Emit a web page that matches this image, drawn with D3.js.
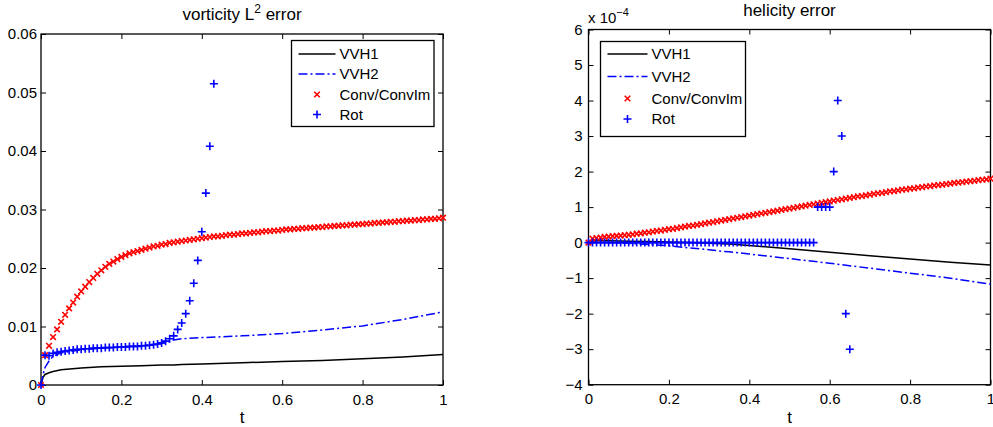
<!DOCTYPE html>
<html>
<head>
<meta charset="utf-8">
<script src="https://cdn.jsdelivr.net/npm/d3@7"></script>
<style>
  html, body { margin: 0; padding: 0; background: #fff; }
  svg { display: block; font-family: "Liberation Sans", Arial, Helvetica, sans-serif; }
</style>
</head>
<body>
<svg id="chart" width="993" height="427"></svg>
<script>
// ---- sampling ----
const markerStep = 0.01;           // markers are saved every 0.01 time units
const lineT = [0, 0.005, 0.01, 0.02, 0.03, 0.05, 0.1, 0.15, 0.2, 0.25, 0.3, 0.33, 0.35, 0.4, 0.5, 0.6, 0.7, 0.8, 0.9, 1.0];

// ---- vorticity L2 error ----
const vortVVH1 = [0, 0.0013, 0.0018, 0.0021, 0.0023, 0.0026, 0.0029, 0.0031, 0.0032, 0.0033, 0.0034, 0.0034, 0.0035, 0.0036, 0.0038, 0.0040, 0.0042, 0.0045, 0.0048, 0.0052];
const vortVVH2 = [0, 0.0018, 0.0030, 0.0041, 0.0049, 0.0055, 0.0060, 0.0063, 0.0065, 0.0067, 0.0071, 0.0077, 0.0079, 0.0081, 0.0084, 0.0088, 0.0094, 0.0101, 0.0112, 0.0125];
const vortConv = [
  0.0000, 0.0051, 0.0067, 0.0082, 0.0095, 0.0108, 0.0120, 0.0131, 0.0141, 0.0151,
  0.0160, 0.0168, 0.0176, 0.0183, 0.0190, 0.0196, 0.0202, 0.0207, 0.0211, 0.0215,
  0.0219, 0.0222, 0.0225, 0.0227, 0.0229, 0.0231, 0.0233, 0.0235, 0.0237, 0.0238,
  0.0240, 0.0241, 0.0243, 0.0244, 0.0245, 0.0246, 0.0247, 0.0248, 0.0249, 0.0250,
  0.0251, 0.0252, 0.0253, 0.0254, 0.0254, 0.0255, 0.0256, 0.0257, 0.0257, 0.0258,
  0.0259, 0.0259, 0.0260, 0.0261, 0.0261, 0.0262, 0.0263, 0.0263, 0.0264, 0.0264,
  0.0265, 0.0266, 0.0266, 0.0267, 0.0267, 0.0268, 0.0268, 0.0269, 0.0269, 0.0270,
  0.0270, 0.0271, 0.0271, 0.0272, 0.0272, 0.0273, 0.0273, 0.0274, 0.0274, 0.0275,
  0.0275, 0.0276, 0.0276, 0.0277, 0.0277, 0.0278, 0.0278, 0.0279, 0.0279, 0.0280,
  0.0280, 0.0281, 0.0281, 0.0282, 0.0282, 0.0283, 0.0283, 0.0284, 0.0284, 0.0285,
  0.0286
];
const vortRot = [
  0.0000, 0.0051, 0.0050, 0.0054, 0.0056, 0.0057, 0.0058, 0.0059, 0.0060, 0.0061,
  0.0061, 0.0062, 0.0062, 0.0063, 0.0063, 0.0063, 0.0064, 0.0064, 0.0064, 0.0065,
  0.0065, 0.0065, 0.0066, 0.0066, 0.0066, 0.0067, 0.0067, 0.0068, 0.0069, 0.0070,
  0.0072, 0.0075, 0.0079, 0.0084, 0.0095, 0.0106, 0.0122, 0.0144, 0.0174, 0.0213,
  0.0262, 0.0328, 0.0408, 0.0515
];
const vortYTicks = [0, 0.01, 0.02, 0.03, 0.04, 0.05, 0.06];
const vortYLabels = ["0", "0.01", "0.02", "0.03", "0.04", "0.05", "0.06"];

// ---- helicity error (units of 1e-4) ----
const heliVVH1 = [0, 0.03, 0.04, 0.05, 0.05, 0.05, 0.04, 0.03, 0.02, 0.0, -0.02, -0.03, -0.04, -0.08, -0.17, -0.27, -0.37, -0.46, -0.55, -0.63];
const heliVVH2 = [0, 0, 0, 0, 0, 0, -0.02, -0.05, -0.09, -0.15, -0.20, -0.24, -0.26, -0.32, -0.45, -0.58, -0.72, -0.86, -1.00, -1.17];
const heliConv = [
  0.00, 0.11, 0.13, 0.14, 0.16, 0.17, 0.18, 0.19, 0.20, 0.21,
  0.22, 0.23, 0.25, 0.26, 0.28, 0.29, 0.31, 0.33, 0.34, 0.36,
  0.38, 0.39, 0.41, 0.43, 0.45, 0.47, 0.48, 0.50, 0.52, 0.54,
  0.56, 0.58, 0.60, 0.62, 0.64, 0.66, 0.68, 0.70, 0.72, 0.74,
  0.76, 0.78, 0.80, 0.82, 0.84, 0.86, 0.88, 0.90, 0.92, 0.94,
  0.96, 0.98, 1.00, 1.02, 1.04, 1.06, 1.08, 1.10, 1.12, 1.14,
  1.16, 1.18, 1.20, 1.22, 1.24, 1.26, 1.28, 1.30, 1.31, 1.33,
  1.35, 1.37, 1.39, 1.40, 1.42, 1.44, 1.45, 1.47, 1.49, 1.50,
  1.52, 1.53, 1.55, 1.56, 1.58, 1.59, 1.61, 1.62, 1.63, 1.65,
  1.66, 1.68, 1.69, 1.70, 1.72, 1.73, 1.74, 1.76, 1.77, 1.78,
  1.80
];
const heliRot = [
  0, 0, 0, 0, 0, 0, 0, 0, 0, 0,
  0, 0, 0, 0, 0, 0, 0, 0, 0, 0,
  0, 0, 0, 0, 0, 0, 0, 0, 0, 0,
  0, 0, 0, 0, 0, 0, 0, 0, 0, 0,
  0, 0, 0, 0, 0, 0, 0, 0, 0, 0,
  0, 0, 0, 0, 0, 0, 0, 1, 1, 1,
  1, 2, 4, 3, -2, -3
];
const heliYTicks = [-4, -3, -2, -1, 0, 1, 2, 3, 4, 5, 6];
const heliYLabels = ["\u22124", "\u22123", "\u22122", "\u22121", "0", "1", "2", "3", "4", "5", "6"];

const xTicks = [0, 0.2, 0.4, 0.6, 0.8, 1];
const xLabels = ["0", "0.2", "0.4", "0.6", "0.8", "1"];
const seriesNames = ["VVH1", "VVH2", "Conv/ConvIm", "Rot"];

// ---- styles ----
const BLUE = "#0000ff", RED = "#ff0000", BLACK = "#000";
const DASHDOT = "9,3,2,3";
const crossPath = "M-2.8,-2.8L2.8,2.8M-2.8,2.8L2.8,-2.8";
const plusPath = "M-4,0H4M0,-4V4";
const MARK_W = 1.6;

const svg = d3.select("#chart");

function drawPanel(cfg) {
  const x = d3.scaleLinear().domain([0, 1]).range([cfg.left, cfg.right]);
  const y = d3.scaleLinear().domain(cfg.yDomain).range([cfg.bottom, cfg.top]);
  const g = svg.append("g");

  // axes box with inward ticks on all four sides
  const tick = 5;
  const styleAxis = sel => {
    sel.select(".domain").remove();
    sel.selectAll("line").attr("stroke", BLACK).attr("stroke-width", 1);
    sel.selectAll("text").attr("fill", BLACK).attr("font-size", 15)
      .attr("font-family", "'Liberation Sans', Arial, Helvetica, sans-serif");
  };
  g.append("g").attr("transform", `translate(0,${cfg.bottom})`)
    .call(d3.axisBottom(x).tickValues(xTicks).tickFormat((d, i) => xLabels[i])
      .tickSizeInner(-tick).tickSizeOuter(0).tickPadding(9))
    .call(styleAxis);
  g.append("g").attr("transform", `translate(0,${cfg.top})`)
    .call(d3.axisTop(x).tickValues(xTicks).tickFormat("").tickSizeInner(-tick).tickSizeOuter(0))
    .call(styleAxis);
  g.append("g").attr("transform", `translate(${cfg.left},0)`)
    .call(d3.axisLeft(y).tickValues(cfg.yTicks).tickFormat((d, i) => cfg.yLabels[i])
      .tickSizeInner(-tick).tickSizeOuter(0).tickPadding(cfg.yPad))
    .call(styleAxis);
  g.append("g").attr("transform", `translate(${cfg.right},0)`)
    .call(d3.axisRight(y).tickValues(cfg.yTicks).tickFormat("").tickSizeInner(-tick).tickSizeOuter(0))
    .call(styleAxis);

  g.append("rect")
    .attr("x", cfg.left).attr("y", cfg.top)
    .attr("width", cfg.right - cfg.left).attr("height", cfg.bottom - cfg.top)
    .attr("fill", "none").attr("stroke", BLACK).attr("stroke-width", 1.3);

  // lines
  const line = d3.line().x(d => x(d[0])).y(d => y(d[1]));
  g.append("path").datum(lineT.map((t, i) => [t, cfg.vvh1[i]]))
    .attr("d", line).attr("fill", "none").attr("stroke", BLACK).attr("stroke-width", 1.5);
  g.append("path").datum(lineT.map((t, i) => [t, cfg.vvh2[i]]))
    .attr("d", line).attr("fill", "none").attr("stroke", BLUE).attr("stroke-width", 1.5)
    .attr("stroke-dasharray", DASHDOT);

  // markers
  g.append("g").selectAll("path").data(cfg.conv.map((v, i) => [i * markerStep, v]))
    .join("path")
    .attr("transform", d => `translate(${x(d[0])},${y(d[1])})`)
    .attr("d", crossPath).attr("fill", "none").attr("stroke", RED).attr("stroke-width", MARK_W);
  g.append("g").selectAll("path").data(cfg.rot.map((v, i) => [i * markerStep, v]))
    .join("path")
    .attr("transform", d => `translate(${x(d[0])},${y(d[1])})`)
    .attr("d", plusPath).attr("fill", "none").attr("stroke", BLUE).attr("stroke-width", MARK_W);

  // title
  const title = g.append("text")
    .attr("x", (cfg.left + cfg.right) / 2).attr("y", cfg.titleY)
    .attr("text-anchor", "middle").attr("font-size", 17).attr("fill", BLACK);
  cfg.title.forEach(part => {
    const ts = title.append("tspan").text(part.text);
    if (part.sup) ts.attr("font-size", 12).attr("dy", -7);
    else if (part.after) ts.attr("dy", 7);
  });

  // x label
  g.append("text").attr("x", (cfg.left + cfg.right) / 2).attr("y", 423)
    .attr("text-anchor", "middle").attr("font-size", 17).attr("fill", BLACK).text("t");

  // legend
  const L = cfg.legend;
  const lg = g.append("g");
  lg.append("rect").attr("x", L.x).attr("y", L.y).attr("width", L.w).attr("height", L.h)
    .attr("fill", "#fff").attr("stroke", BLACK).attr("stroke-width", 1.3);
  const sx0 = L.x + 7, sx1 = L.x + 7 + L.sample, sxm = (sx0 + sx1) / 2;
  seriesNames.forEach((name, i) => {
    const cy = L.rows[i];
    if (i === 0) lg.append("line").attr("x1", sx0).attr("x2", sx1).attr("y1", cy).attr("y2", cy)
      .attr("stroke", BLACK).attr("stroke-width", 1.5);
    if (i === 1) lg.append("line").attr("x1", sx0).attr("x2", sx1).attr("y1", cy).attr("y2", cy)
      .attr("stroke", BLUE).attr("stroke-width", 1.5).attr("stroke-dasharray", DASHDOT);
    if (i === 2) lg.append("path").attr("transform", `translate(${sxm},${cy})`)
      .attr("d", crossPath).attr("fill", "none").attr("stroke", RED).attr("stroke-width", MARK_W);
    if (i === 3) lg.append("path").attr("transform", `translate(${sxm},${cy})`)
      .attr("d", plusPath).attr("fill", "none").attr("stroke", BLUE).attr("stroke-width", MARK_W);
    lg.append("text").attr("x", sx1 + 4).attr("y", cy).attr("dy", "0.36em")
      .attr("font-size", 15).attr("fill", BLACK).text(name);
  });

  return { x, y, g };
}

drawPanel({
  left: 41, right: 443, top: 34, bottom: 385,
  yDomain: [0, 0.06], yTicks: vortYTicks, yLabels: vortYLabels, yPad: 4,
  vvh1: vortVVH1, vvh2: vortVVH2, conv: vortConv, rot: vortRot,
  title: [{ text: "vorticity L" }, { text: "2", sup: true }, { text: " error", after: true }],
  titleY: 20,
  legend: { x: 291.5, y: 40.5, w: 142.5, h: 86, sample: 37, rows: [54, 74, 94.5, 114.5] }
});

drawPanel({
  left: 588.5, right: 990.5, top: 29.5, bottom: 384.7,
  yDomain: [-4, 6], yTicks: heliYTicks, yLabels: heliYLabels, yPad: 6,
  vvh1: heliVVH1, vvh2: heliVVH2, conv: heliConv, rot: heliRot,
  title: [{ text: "helicity error" }],
  titleY: 16,
  legend: { x: 600.5, y: 41.5, w: 145, h: 95, sample: 40, rows: [54, 76.5, 98.5, 119] }
});

// exponent note for the helicity axis
const expo = svg.append("text").attr("x", 588).attr("y", 23).attr("font-size", 15).attr("fill", BLACK);
expo.append("tspan").text("x 10");
expo.append("tspan").attr("font-size", 11).attr("dy", -7).text("\u22124");
</script>
</body>
</html>
